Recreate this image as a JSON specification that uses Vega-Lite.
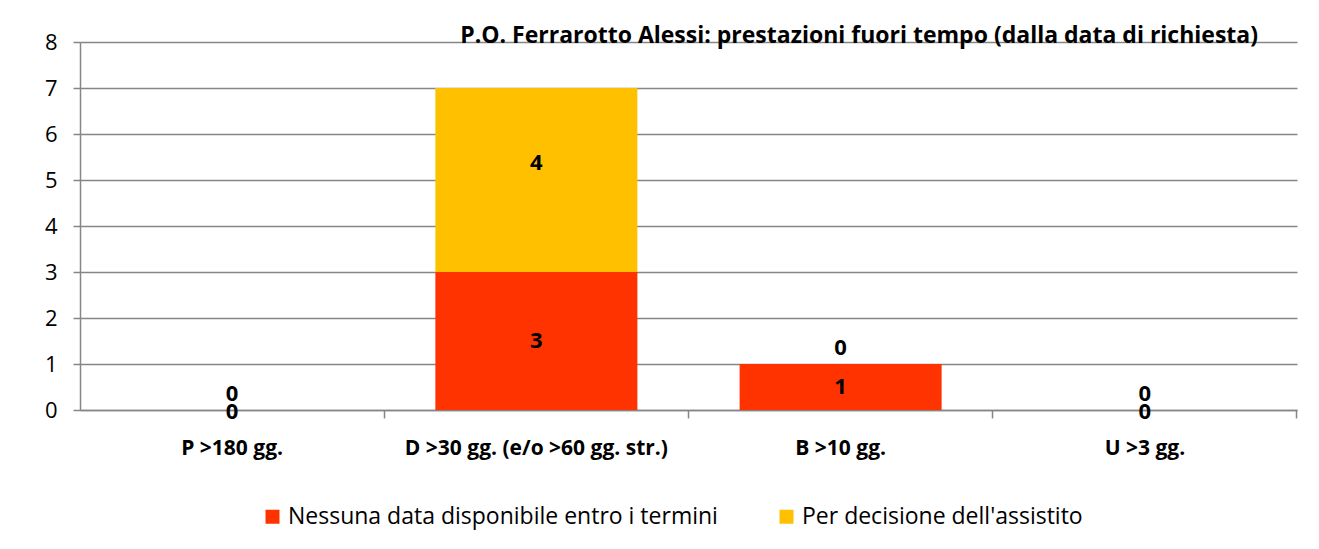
{
  "$schema": "https://vega.github.io/schema/vega-lite/v6.json",
  "width": 1217,
  "height": 368,
  "autosize": {"type": "none"},
  "padding": {"left": 80, "top": 42, "right": 22, "bottom": 139},
  "background": "white",
  "config": {
    "font": "Open Sans",
    "view": {"stroke": null},
    "axis": {"labelFont": "Open Sans", "labelColor": "black"}
  },
  "title": {
    "text": "P.O. Ferrarotto Alessi: prestazioni fuori tempo (dalla data di richiesta)",
    "anchor": "end",
    "orient": "top",
    "baseline": "alphabetic",
    "offset": -35,
    "dx": -39,
    "fontSize": 23,
    "fontWeight": "bold",
    "font": "Open Sans",
    "color": "black"
  },
  "data": {
    "values": [
      {"cat": "P >180 gg.", "series": "Nessuna data disponibile entro i termini", "value": 0},
      {"cat": "P >180 gg.", "series": "Per decisione dell'assistito", "value": 0},
      {"cat": "D >30 gg. (e/o >60 gg. str.)", "series": "Nessuna data disponibile entro i termini", "value": 3},
      {"cat": "D >30 gg. (e/o >60 gg. str.)", "series": "Per decisione dell'assistito", "value": 4},
      {"cat": "B >10 gg.", "series": "Nessuna data disponibile entro i termini", "value": 1},
      {"cat": "B >10 gg.", "series": "Per decisione dell'assistito", "value": 0},
      {"cat": "U >3 gg.", "series": "Nessuna data disponibile entro i termini", "value": 0},
      {"cat": "U >3 gg.", "series": "Per decisione dell'assistito", "value": 0}
    ]
  },
  "transform": [
    {"stack": "value", "groupby": ["cat"], "sort": [{"field": "series", "order": "ascending"}], "as": ["y0", "y1"]},
    {"calculate": "(datum.y0 + datum.y1) / 2", "as": "mid"}
  ],
  "resolve": {"axis": {"x": "independent", "y": "independent"}},
  "layer": [
    {
      "mark": {"type": "bar"},
      "encoding": {
        "x": {
          "field": "cat", "type": "nominal", "sort": null,
          "scale": {"paddingInner": 0.336, "paddingOuter": 0.168},
          "axis": {
            "title": null, "orient": "bottom", "labelAngle": 0, "labelLimit": 600,
            "ticks": false, "domain": true, "domainColor": "#868686", "domainWidth": 1.5,
            "labelFontSize": 21, "labelFontWeight": "bold", "labelPadding": 27
          }
        },
        "y": {
          "field": "y0", "type": "quantitative",
          "scale": {"domain": [0, 8], "nice": false},
          "axis": {
            "title": null, "orient": "left", "values": [0,1,2,3,4,5,6,7,8], "labelOverlap": false,
            "grid": true, "gridColor": "#868686", "gridWidth": 1.5,
            "domain": true, "domainColor": "#868686", "domainWidth": 1.5,
            "ticks": true, "tickSize": 7, "tickColor": "#868686", "tickWidth": 1.5,
            "labelFontSize": 22, "labelPadding": 16
          }
        },
        "y2": {"field": "y1"},
        "color": {
          "field": "series", "type": "nominal",
          "scale": {
            "domain": ["Nessuna data disponibile entro i termini", "Per decisione dell'assistito"],
            "range": ["#FF3300", "#FFC000"]
          },
          "legend": {
            "title": null, "orient": "none", "direction": "horizontal",
            "legendX": 181, "legendY": 463,
            "symbolType": "square", "symbolSize": 196, "symbolStrokeWidth": 0,
            "labelFontSize": 23, "labelFont": "Open Sans", "labelColor": "black",
            "labelOffset": 4, "columnPadding": 57, "labelLimit": 600
          }
        }
      }
    },
    {
      "transform": [{"filter": "datum.series == 'Nessuna data disponibile entro i termini' && datum.value > 0"}],
      "mark": {"type": "text", "fontSize": 22, "fontWeight": "bold", "color": "black", "baseline": "middle"},
      "encoding": {
        "x": {
          "field": "cat", "type": "nominal", "sort": null,
          "axis": {
            "title": null, "orient": "bottom", "labels": false, "domain": false, "grid": false,
            "ticks": true, "tickSize": 8, "tickColor": "#868686", "tickWidth": 1.5, "bandPosition": 1.253
          }
        },
        "y": {"field": "mid", "type": "quantitative", "axis": null},
        "text": {"field": "value", "type": "quantitative"}
      }
    },
    {
      "transform": [{"filter": "datum.series == 'Per decisione dell\\'assistito' && datum.value > 0"}],
      "mark": {"type": "text", "fontSize": 22, "fontWeight": "bold", "color": "black", "baseline": "middle", "dy": -17},
      "encoding": {
        "x": {"field": "cat", "type": "nominal", "sort": null, "axis": null},
        "y": {"field": "mid", "type": "quantitative", "axis": null},
        "text": {"field": "value", "type": "quantitative"}
      }
    },
    {
      "transform": [{"filter": "datum.series == 'Nessuna data disponibile entro i termini' && datum.value == 0"}],
      "mark": {"type": "text", "fontSize": 22, "fontWeight": "bold", "color": "black", "baseline": "middle", "dy": 2},
      "encoding": {
        "x": {"field": "cat", "type": "nominal", "sort": null, "axis": null},
        "y": {"field": "y0", "type": "quantitative", "axis": null},
        "text": {"field": "value", "type": "quantitative"}
      }
    },
    {
      "transform": [{"filter": "datum.series == 'Per decisione dell\\'assistito' && datum.value == 0"}],
      "mark": {"type": "text", "fontSize": 22, "fontWeight": "bold", "color": "black", "baseline": "middle", "dy": -16},
      "encoding": {
        "x": {"field": "cat", "type": "nominal", "sort": null, "axis": null},
        "y": {"field": "y1", "type": "quantitative", "axis": null},
        "text": {"field": "value", "type": "quantitative"}
      }
    }
  ]
}
